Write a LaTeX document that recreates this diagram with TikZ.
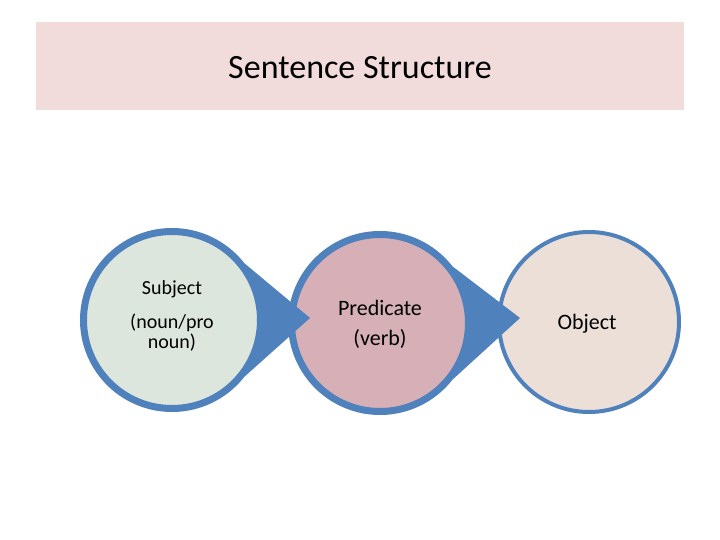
\documentclass[tikz,border=0pt]{standalone}
\usepackage{fontspec}
\setmainfont{Carlito}
\usetikzlibrary{calc}
\definecolor{bl}{HTML}{4F81BD}
\definecolor{fa}{HTML}{DCE6DC}
\definecolor{fb}{HTML}{D6B0B6}
\definecolor{fc}{HTML}{ECDFD8}
\definecolor{band}{HTML}{F2DCDB}
\begin{document}
\begin{tikzpicture}[x=1pt,y=-1pt,
  drop/.style={fill=bl},
  disc/.style={circle,minimum size=174,draw=bl,line width=4pt},
  lbl/.style={align=center,font=\fontsize{22}{30}\selectfont}]
\useasboundingbox (0,0) rectangle (720,540);
\fill[white] (0,0) rectangle (720,540);
\node[fill=band,minimum width=648,minimum height=88,inner sep=0] (title) at (360,66) {};
\node[font=\fontsize{34}{40}\selectfont] (tt) at (360,68) {Sentence Structure};
% object
\node[disc,fill=fc,minimum size=180] (o) at (589,322) {};
\node[lbl] (ol) at (587,324) {Object};
% predicate
\fill[drop] (380,323) ++(38:92) -- (520,318) -- ($(380,323)+(-38:92)$) arc[start angle=-38,end angle=-322,radius=92] -- cycle;
\node[disc,fill=fb] (p) at (380,323) {};
\node[lbl] (pl) at (380,324) {Predicate\\(verb)};
% subject
\fill[drop] (172,320) ++(38:92) -- (310,318) -- ($(172,320)+(-38:92)$) arc[start angle=-38,end angle=-322,radius=92] -- cycle;
\node[disc,fill=fa] (s) at (172,320) {};
\node[align=center,font=\fontsize{20}{34}\selectfont] (sl) at (172,306) {Subject\\(noun/pro};
\node[font=\fontsize{20}{24}\selectfont] (sl2) at (172,343) {noun)};
\end{tikzpicture}
\end{document}
